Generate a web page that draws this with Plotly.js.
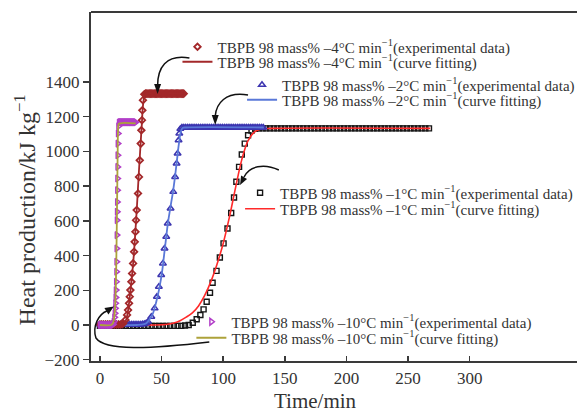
<!DOCTYPE html>
<html><head><meta charset="utf-8">
<script src="https://cdn.plot.ly/plotly-3.0.1.min.js"></script>
<style>html,body{margin:0;padding:0;background:#fff}#chart{width:580px;height:412px}</style>
</head><body><div id="chart"></div>
<script>
// ---- data (time in min, heat production in kJ/kg) ----
const t10 = [0,1,2,3,4,5,6,7,8,9,10,10.8,11.3,11.8,12.1,12.4,12.6,12.8,13.0,13.2,13.4,13.5,13.6,13.7,13.8,13.9,14.0,14.1,14.2,14.3,14.4,14.5,14.7,15.0,15.5,16,16.5,17,17.5,18,18.5,19,19.5,20,20.5,21,21.5,22,22.5,23,23.5,24,24.5,25,25.5,26,26.5,27,27.5,28,28.5,29];
const h10 = [0,0,0,0,0,0,0,0,0,0,0,5,19,44,67,96,125,159,201,249,307,364,441,518,604,652,709,777,844,911,978,1045,1103,1145,1165,1168,1168,1168,1168,1168,1168,1168,1168,1168,1168,1168,1168,1168,1168,1168,1168,1168,1168,1168,1168,1168,1168,1168,1168,1168,1168,1168];
const t10fit = [0,9,10.5,11.5,12.3,12.8,13.2,13.5,13.8,14.1,14.4,14.7,15.2,16,29];
const h10fit = [0,0,10,40,100,200,330,480,640,820,1000,1120,1158,1162,1162];

const t4 = [0,1.5,3,4.5,6,7.5,9,10.5,12,13.5,15,16.5,18,18.8,20.7,22.0,22.8,23.6,24.2,24.7,25.5,26.1,26.9,27.7,28.2,28.8,29.3,29.8,30.9,31.7,32.3,33.1,33.6,34.1,34.4,34.9,36.0,37,38,39,40,41,42,43,44,45,46,47,48,49,50,51,52,53,54,55,56,57,58,59,60,61,62,63,64,65,66,67,68];
const h4 = [3,3,3,3,3,3,3,3,3,3,3,3,5,10,29,58,86,125,163,201,249,297,355,422,479,537,604,662,758,853,949,1045,1122,1180,1237,1295,1329,1333,1333,1333,1333,1333,1333,1333,1333,1333,1333,1333,1333,1333,1333,1333,1333,1333,1333,1333,1333,1333,1333,1333,1333,1333,1333,1333,1333,1333,1333,1333,1333];
const t4fit = [0,17,19,21,22.5,24,25.5,27,28.5,30,31.5,33,34,35,36.5,38,68];
const h4fit = [0,0,8,25,70,150,250,360,510,680,870,1045,1160,1270,1325,1333,1333];

const t2 = [0,1.5,3,4.5,6,7.5,9,10.5,12,13.5,15,16.5,18,19.5,21,22.5,24,25.5,27,28.5,30,31.5,33,34.5,36,37.5,39,41.7,44.4,46.2,47.8,49.7,51.1,52.4,53.8,55.0,57.3,59.5,61.0,62.2,63.0,63.8,64.4,65.2,66.5,68,69.5,71,72.5,74,75.5,77,78.5,80,81.5,83,84.5,86,87.5,89,90.5,92,93.5,95,96.5,98,99.5,101,102.5,104,105.5,107,108.5,110,111.5,113,114.5,116,117.5,119,120.5,122,123.5,125,126.5,128,129.5,131,132.5];
const h2 = [3,3,3,3,3,3,3,3,3,3,3,3,3,3,3,3,3,3,3,3,3,3,3,5,6,10,19,48,96,163,220,288,355,441,508,585,671,767,853,930,988,1064,1103,1130,1138,1138,1138,1138,1138,1138,1138,1138,1138,1138,1138,1138,1138,1138,1138,1138,1138,1138,1138,1138,1138,1138,1138,1138,1138,1138,1138,1138,1138,1138,1138,1138,1138,1138,1138,1138,1138,1138,1138,1138,1138,1138,1138,1138,1138];
const t2fit = [0,30,35,37.6,40,43,45.7,48.4,50.5,52,53.5,55,57,59.3,61,62.5,64,65.5,67,70,133];
const h2fit = [0,0,3,10,30,67,134,220,310,400,490,580,670,770,860,950,1040,1110,1135,1138,1138];

const t1 = [0,3,6,9,12,15,18,21,24,27,30,33,36,39,42,45,48,51,54,57,60,63,66,69,72,75.3,78.5,81.5,84.1,86.6,89.3,91.4,94.6,97.3,100.3,103.5,106.5,108.8,110.7,112.9,115.1,117.5,120.2,123,126,129,132,135,138,141,144,147,150,153,156,159,162,165,168,171,174,177,180,183,186,189,192,195,198,201,204,207,210,213,216,219,222,225,228,231,234,237,240,243,246,249,252,255,258,261,264,267];
const h1 = [-5,-5,-5,-5,-5,-5,-5,-5,-5,-5,-5,-5,-5,-5,-5,-5,-5,-5,-5,-5,-5,-5,-5,-3,0,13,33,58,90,134,186,243,312,389,470,556,645,735,825,911,982,1045,1093,1120,1130,1133,1133,1133,1133,1133,1133,1133,1133,1133,1133,1133,1133,1133,1133,1133,1133,1133,1133,1133,1133,1133,1133,1133,1133,1133,1133,1133,1133,1133,1133,1133,1133,1133,1133,1133,1133,1133,1133,1133,1133,1133,1133,1133,1133,1133,1133,1133];
const t1fit = [0,45,55,60,65,70,75,80,85,90,95,100,105,110,115,120,125,130,140,268];
const h1fit = [0,0,4,12,25,45,70,110,170,250,350,470,620,790,950,1060,1110,1128,1133,1133];

const xTicks = [0,50,100,150,200,250,300];
const yTicks = [-200,0,200,400,600,800,1000,1200,1400];
const xLabel = 'Time/min';
const yLabel = 'Heat production/kJ kg<sup>\u22121</sup>';
const names = {
  e4:'TBPB 98 mass% \u20134\u00b0C min<sup>\u22121</sup>(experimental data)',
  f4:'TBPB 98 mass% \u20134\u00b0C min<sup>\u22121</sup>(curve fitting)',
  e2:'TBPB 98 mass% \u20132\u00b0C min<sup>\u22121</sup>(experimental data)',
  f2:'TBPB 98 mass% \u20132\u00b0C min<sup>\u22121</sup>(curve fitting)',
  e1:'TBPB 98 mass% \u20131\u00b0C min<sup>\u22121</sup>(experimental data)',
  f1:'TBPB 98 mass% \u20131\u00b0C min<sup>\u22121</sup>(curve fitting)',
  e10:'TBPB 98 mass% \u201310\u00b0C min<sup>\u22121</sup>(experimental data)',
  f10:'TBPB 98 mass% \u201310\u00b0C min<sup>\u22121</sup>(curve fitting)'
};

// ---- styling & layout ----
const W = 580, H = 412, M = {l:91, r:0, t:12, b:51};
const pw = W - M.l - M.r, ph = H - M.t - M.b;
const px = x => (x - M.l) / pw;
const py = y => 1 - (y - M.t) / ph;
const serif = 'Liberation Serif';

function mk(sym, col, size, lw){ return {symbol:sym, size:size, color:col, line:{color:col, width:lw}}; }

const traces = [
  {x:t1, y:h1, mode:'markers', name:names.e1, legend:'legend5', marker:mk('square-open','#161616',5,1.4)},
  {x:t1fit, y:h1fit, mode:'lines', name:names.f1, legend:'legend6', line:{color:'#ff2a2a', width:1.6, shape:'spline'}},
  {x:t2, y:h2, mode:'markers', name:names.e2, legend:'legend3', marker:mk('triangle-up-open','#3c35b0',6,1.5)},
  {x:t2fit, y:h2fit, mode:'lines', name:names.f2, legend:'legend4', line:{color:'#5a78d8', width:1.8, shape:'spline'}},
  {x:t4, y:h4, mode:'markers', name:names.e4, legend:'legend', marker:mk('diamond-open','#a3282a',5,1.8)},
  {x:t4fit, y:h4fit, mode:'lines', name:names.f4, legend:'legend2', line:{color:'#a3282a', width:1.8, shape:'spline'}},
  {x:t10, y:h10, mode:'markers', name:names.e10, legend:'legend7', marker:mk('triangle-right-open','#b23ec8',6,1.5)},
  {x:t10fit, y:h10fit, mode:'lines', name:names.f10, legend:'legend8', line:{color:'#ada23a', width:1.8, shape:'spline'}}
];

const legFont = {family:serif, size:15, color:'#333'};
function leg(x, y){ return {x:px(x), y:py(y), xanchor:'left', yanchor:'middle', bgcolor:'rgba(0,0,0,0)', font:legFont, itemwidth:30}; }

function P(pts){ // pixel points -> paper path string
  return pts.map(p => px(p[0]).toFixed(4)+','+py(p[1]).toFixed(4)).join(' ');
}
const arrowLine = {color:'#111', width:1.5};
const shapes = [
  {type:'line', xref:'paper', yref:'paper', x0:0, x1:1, y0:1, y1:1, line:{color:'#3a3a3a', width:2}},
  {type:'path', xref:'paper', yref:'paper', line:arrowLine, path:'M '+P([[190,58]])+' C '+P([[166,54],[158,68],[158,86]])},
  {type:'path', xref:'paper', yref:'paper', line:{width:0}, fillcolor:'#111', path:'M '+P([[154.5,84]])+' L '+P([[161.5,84]])+' L '+P([[158,94]])+' Z'},
  {type:'path', xref:'paper', yref:'paper', line:arrowLine, path:'M '+P([[249,95]])+' C '+P([[226,91],[217,104],[216,116]])},
  {type:'path', xref:'paper', yref:'paper', line:{width:0}, fillcolor:'#111', path:'M '+P([[212.5,115]])+' L '+P([[219.5,115]])+' L '+P([[216,125]])+' Z'},
  {type:'path', xref:'paper', yref:'paper', line:arrowLine, path:'M '+P([[280,170]])+' C '+P([[265,163],[250,166],[245,177]])},
  {type:'path', xref:'paper', yref:'paper', line:{width:0}, fillcolor:'#111', path:'M '+P([[248,179]])+' L '+P([[242,175.5]])+' L '+P([[241,185]])+' Z'},
  {type:'path', xref:'paper', yref:'paper', line:arrowLine, path:'M '+P([[210,342]])+' C '+P([[150,349],[105,351],[96,338]])+' C '+P([[92,326],[99,314],[107,311]])},
  {type:'path', xref:'paper', yref:'paper', line:{width:0}, fillcolor:'#111', path:'M '+P([[104.5,308]])+' L '+P([[108.5,314.5]])+' L '+P([[114,306.5]])+' Z'}
];

const layout = {
  width:W, height:H, margin:M, paper_bgcolor:'#fff', plot_bgcolor:'#fff',
  font:{family:serif, color:'#333'},
  showlegend:true,
  legend:leg(178,47), legend2:leg(178,62),
  legend3:leg(243,85), legend4:leg(243,100),
  legend5:leg(241,193), legend6:leg(241,209),
  legend7:leg(192,322), legend8:leg(192,338),
  xaxis:{range:[-9/1.24, 480/1.24], tickvals:xTicks, ticktext:xTicks.map(String), ticks:'inside', ticklen:5, tickwidth:1.5, tickcolor:'#3a3a3a', ticklabelstandoff:1,
         showline:true, linecolor:'#3a3a3a', linewidth:2, showgrid:false, zeroline:false, tickfont:{family:serif, size:17, color:'#333'}},
  yaxis:{range:[-207.4, 1803.3], tickvals:yTicks, ticks:'outside', ticklen:6, tickwidth:1.5, tickcolor:'#3a3a3a',
         showline:true, linecolor:'#3a3a3a', linewidth:2, showgrid:false, zeroline:false, tickfont:{family:serif, size:17, color:'#333'}},
  shapes:shapes,
  annotations:[
    {text:xLabel, xref:'paper', yref:'paper', x:px(317), y:py(400.5), xanchor:'center', yanchor:'middle', showarrow:false, font:{family:serif, size:21, color:'#333'}},
    {text:yLabel, xref:'paper', yref:'paper', x:px(25), y:py(210), xanchor:'center', yanchor:'middle', textangle:-90, showarrow:false, font:{family:serif, size:24, color:'#333'}}
  ]
};
Plotly.newPlot('chart', traces, layout, {displayModeBar:false, staticPlot:true});
</script></body></html>
